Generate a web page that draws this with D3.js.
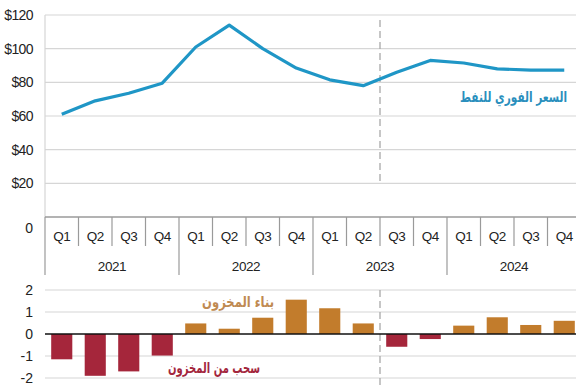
<!DOCTYPE html>
<html>
<head>
<meta charset="utf-8">
<script src="https://cdn.jsdelivr.net/npm/d3@7"></script>
<style>
  html, body { margin: 0; padding: 0; background: #fff; }
  svg { display: block; }
  .tick-label { font-family: "Liberation Sans", Arial, sans-serif; fill: #222; }
  .ar { font-family: "DejaVu Sans", "Noto Sans", sans-serif; font-weight: bold; }
</style>
</head>
<body>
<svg id="chart" width="576" height="389"></svg>
<script>
// Quarters and years
const years = ["2021", "2022", "2023", "2024"];
const quarterNames = ["Q1", "Q2", "Q3", "Q4"];
const quarters = years.flatMap(y => quarterNames.map(q => y + "-" + q));

// Oil spot price, USD per barrel
const priceValues = [61, 69, 73.5, 79.5, 101, 114, 100, 88.5, 81.5, 78, 86, 93, 91.5, 88, 87.3, 87.3];
// Inventory change (million barrels per day)
const stockValues = [-1.15, -1.9, -1.7, -0.98, 0.48, 0.24, 0.74, 1.56, 1.17, 0.48, -0.58, -0.23, 0.38, 0.76, 0.41, 0.6];

const priceTicks = [20, 40, 60, 80, 100, 120];
const stockTicks = [2, 1, 0, -1, -2];

const priceLabel = "السعر الفوري للنفط";
const buildLabel = "بناء المخزون";
const drawLabel = "سحب من المخزون";

const colors = { line: "#1f96c6", build: "#c27c2c", draw: "#a5263b", grid: "#d6d6d6", axis: "#9a9a9a" };

const svg = d3.select("#chart");
const left = 45, right = 581;

const x = d3.scaleBand().domain(quarters).range([left, right]).padding(0);
const yPrice = d3.scaleLinear().domain([0, 120]).range([217, 15]);
const yStock = d3.scaleLinear().domain([-2, 2]).range([378, 290]);

// Arabic series label, right-aligned and narrowed to a given width
function arLabel(g, text, xRight, y, width, fill) {
  const t = g.append("text").attr("class", "ar")
    .attr("x", 0).attr("y", 0).attr("dy", "0.35em")
    .attr("text-anchor", "end").attr("font-size", 15).attr("fill", fill)
    .text(text);
  const natural = t.node().getComputedTextLength();
  const sx = Math.min(1, width / natural);
  t.attr("transform", `translate(${xRight},${y}) scale(${sx},1)`);
}

// ---- Upper panel: price ----
const pricePanel = svg.append("g");
pricePanel.selectAll("line.grid").data(priceTicks).join("line")
  .attr("x1", left).attr("x2", right)
  .attr("y1", d => yPrice(d)).attr("y2", d => yPrice(d))
  .attr("stroke", colors.grid).attr("stroke-width", 1.2);
pricePanel.append("line")
  .attr("x1", left).attr("x2", left).attr("y1", yPrice(120)).attr("y2", yPrice(0))
  .attr("stroke", colors.grid).attr("stroke-width", 1.2);
pricePanel.selectAll("text.ylab").data(priceTicks).join("text")
  .attr("class", "tick-label")
  .attr("x", 33).attr("y", d => yPrice(d)).attr("dy", "0.35em")
  .attr("text-anchor", "end").attr("font-size", 14).attr("letter-spacing", "-0.6")
  .text(d => "$" + d);
pricePanel.append("text").attr("class", "tick-label")
  .attr("x", 33).attr("y", yPrice(0) + 11).attr("dy", "0.35em")
  .attr("text-anchor", "end").attr("font-size", 14).text("0");

// forecast divider
const splitX = x(quarters[10]);
pricePanel.append("line")
  .attr("x1", splitX).attr("x2", splitX).attr("y1", 20).attr("y2", yPrice(20))
  .attr("stroke", "#a8a8a8").attr("stroke-width", 1.3).attr("stroke-dasharray", "7,4");

const line = d3.line()
  .x((d, i) => x(quarters[i]) + x.bandwidth() / 2)
  .y(d => yPrice(d));
pricePanel.append("path").datum(priceValues)
  .attr("d", line).attr("fill", "none")
  .attr("stroke", colors.line).attr("stroke-width", 3.2).attr("stroke-linejoin", "round");

arLabel(pricePanel, priceLabel, 567, 97, 107, "#2a8fbd");

// ---- Category axis ----
const axisG = svg.append("g");
axisG.append("line")
  .attr("x1", left).attr("x2", right).attr("y1", yPrice(0)).attr("y2", yPrice(0))
  .attr("stroke", colors.axis).attr("stroke-width", 1.5);
axisG.selectAll("line.qtick").data(quarters).join("line")
  .attr("x1", d => x(d)).attr("x2", d => x(d))
  .attr("y1", yPrice(0)).attr("y2", (d, i) => i % 4 === 0 ? 275 : 246)
  .attr("stroke", colors.axis).attr("stroke-width", 1.2);
axisG.selectAll("text.q").data(quarters).join("text")
  .attr("class", "tick-label")
  .attr("x", d => x(d) + x.bandwidth() / 2).attr("y", 236).attr("dy", "0.35em")
  .attr("text-anchor", "middle").attr("font-size", 13.5).attr("letter-spacing", "-0.4")
  .text(d => d.split("-")[1]);
axisG.selectAll("text.yr").data(years).join("text")
  .attr("class", "tick-label")
  .attr("x", (d, i) => x(quarters[i * 4]) + x.bandwidth() * 2).attr("y", 266).attr("dy", "0.35em")
  .attr("text-anchor", "middle").attr("font-size", 13.5).attr("letter-spacing", "-0.4")
  .text(d => d);

// ---- Lower panel: inventory change ----
const stockPanel = svg.append("g");
stockPanel.selectAll("line.grid").data(stockTicks.filter(d => d !== 0)).join("line")
  .attr("x1", left).attr("x2", right)
  .attr("y1", d => yStock(d)).attr("y2", d => yStock(d))
  .attr("stroke", colors.grid).attr("stroke-width", 1.2);
stockPanel.selectAll("text.ylab").data(stockTicks).join("text")
  .attr("class", "tick-label")
  .attr("x", 33).attr("y", d => yStock(d)).attr("dy", "0.35em")
  .attr("text-anchor", "end").attr("font-size", 14)
  .text(d => d);

stockPanel.append("line")
  .attr("x1", splitX).attr("x2", splitX).attr("y1", 290).attr("y2", 386)
  .attr("stroke", "#a8a8a8").attr("stroke-width", 1.3).attr("stroke-dasharray", "7,4");

const barPad = 0.37;
const bw = x.bandwidth() * (1 - barPad);
stockPanel.selectAll("rect.bar").data(stockValues).join("rect")
  .attr("x", (d, i) => x(quarters[i]) + (x.bandwidth() - bw) / 2)
  .attr("width", bw)
  .attr("y", d => yStock(Math.max(0, d)))
  .attr("height", d => Math.abs(yStock(d) - yStock(0)))
  .attr("fill", d => d >= 0 ? colors.build : colors.draw);

stockPanel.append("line")
  .attr("x1", left).attr("x2", right).attr("y1", yStock(0)).attr("y2", yStock(0))
  .attr("stroke", "#111").attr("stroke-width", 1.5);

arLabel(stockPanel, buildLabel, 274, 302, 72, "#c08a52");
arLabel(stockPanel, drawLabel, 260, 368, 92, "#a3263c");
</script>
</body>
</html>
